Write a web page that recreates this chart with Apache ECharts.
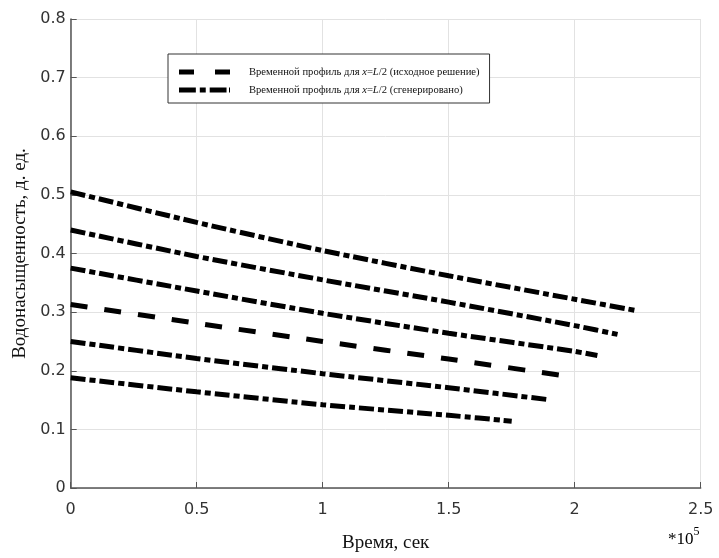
<!DOCTYPE html>
<html>
<head>
<meta charset="utf-8">
<script src="https://cdn.jsdelivr.net/npm/echarts@6/dist/echarts.min.js"></script>
<style>
  html, body { margin: 0; padding: 0; background: #fff; }
  #chart { width: 719px; height: 558px; }
</style>
</head>
<body>
<div id="chart"></div>
<script>
// время в единицах 1e5 сек
const nameSrc = 'Временной профиль для x=L/2 (исходное решение)';
const nameGen = 'Временной профиль для x=L/2 (сгенерировано)';

const line1 = [[0, 0.505], [0.5, 0.453], [1, 0.405], [1.5, 0.362], [2, 0.322], [2.24, 0.303]];
const line2 = [[0, 0.44], [0.5, 0.395], [1, 0.355], [1.5, 0.317], [2, 0.277], [2.17, 0.262]];
const line3 = [[0, 0.375], [0.5, 0.336], [1, 0.298], [1.5, 0.264], [2, 0.233], [2.09, 0.226]];
const lineSrc = [[0, 0.313], [0.5, 0.281], [1, 0.25], [1.5, 0.22], [1.98, 0.19]];
const line5 = [[0, 0.25], [0.5, 0.221], [1, 0.195], [1.5, 0.171], [1.89, 0.151]];
const line6 = [[0, 0.188], [0.5, 0.164], [1, 0.142], [1.5, 0.124], [1.75, 0.114]];

const dashDot = [15, 4, 6, 4];
const dashed = [17, 17];

function mk(name, data, type) {
  return {
    name: name,
    type: 'line',
    data: data,
    smooth: 0.2,
    showSymbol: false,
    symbol: 'none',
    lineStyle: { color: '#000', width: 5, type: type, cap: 'butt' },
    itemStyle: { color: '#000' },
    silent: true
  };
}

const chart = echarts.init(document.getElementById('chart'));

const legendFmt = function (n) {
  const tail = n === nameSrc ? ' (исходное решение)' : ' (сгенерировано)';
  return '{p|}{a|Временной профиль для }{i|x}{a|=}{i|L}{a|/2' + tail + '}';
};

chart.setOption({
  animation: false,
  grid: { left: 70.7, right: 18.3, top: 19, bottom: 63 },
  legend: {
    orient: 'vertical',
    left: 168,
    top: 54,
    data: [
      { name: nameSrc, icon: 'path://M0,0h15v5h-15z M36,0h15v5h-15z' },
      { name: nameGen, icon: 'path://M0,0h17v5h-17z M21,0h6v5h-6z M31,0h17v5h-17z M50.5,0h1v5h-1z' }
    ],
    itemWidth: 51,
    itemHeight: 5,
    itemGap: 4,
    padding: [11, 10, 6, 11],
    borderColor: '#333',
    borderWidth: 1,
    backgroundColor: '#fff',
    itemStyle: { color: '#000', borderWidth: 0 },
    formatter: legendFmt,
    textStyle: {
      lineHeight: 14,
      rich: {
        p: { width: 14 },
        a: { fontFamily: 'Liberation Serif', fontSize: 10.6, color: '#111', lineHeight: 14 },
        i: { fontFamily: 'Liberation Serif', fontSize: 10.6, fontStyle: 'italic', color: '#111', lineHeight: 14 }
      }
    }
  },
  xAxis: {
    type: 'value',
    min: 0,
    max: 2.5,
    interval: 0.5,
    name: 'Время, сек',
    nameLocation: 'middle',
    nameGap: 46,
    nameTextStyle: { fontFamily: 'Liberation Serif', fontSize: 19, color: '#111' },
    axisLine: { lineStyle: { color: '#555', width: 1.5 } },
    axisTick: { inside: true, length: 6, lineStyle: { color: '#555' } },
    axisLabel: { fontFamily: 'DejaVu Sans', fontSize: 16, color: '#333', margin: 14 },
    splitLine: { show: true, lineStyle: { color: '#e2e2e2', width: 1 } }
  },
  yAxis: {
    type: 'value',
    min: 0,
    max: 0.8,
    interval: 0.1,
    name: 'Водонасыщенность, д. ед.',
    nameLocation: 'middle',
    nameGap: 31,
    nameTextStyle: { fontFamily: 'Liberation Serif', fontSize: 19, color: '#111' },
    axisLine: { show: true, lineStyle: { color: '#555', width: 1.5 } },
    axisTick: { show: true, inside: true, length: 6, lineStyle: { color: '#555' } },
    axisLabel: { fontFamily: 'DejaVu Sans', fontSize: 16, color: '#333', margin: 5 },
    splitLine: { show: true, lineStyle: { color: '#e2e2e2', width: 1 } }
  },
  graphic: [{
    type: 'text',
    left: 668,
    top: 526,
    style: {
      text: '{a|*10}{s|5}',
      rich: {
        a: { fontFamily: 'Liberation Serif', fontSize: 17, color: '#111', verticalAlign: 'bottom' },
        s: { fontFamily: 'Liberation Serif', fontSize: 12, color: '#111', verticalAlign: 'top', padding: [0, 0, 10, 0] }
      }
    }
  }],
  series: [
    mk(nameSrc, lineSrc, dashed),
    mk(nameGen, line1, dashDot),
    mk(nameGen, line2, dashDot),
    mk(nameGen, line3, dashDot),
    mk(nameGen, line5, dashDot),
    mk(nameGen, line6, dashDot)
  ]
});
</script>
</body>
</html>
